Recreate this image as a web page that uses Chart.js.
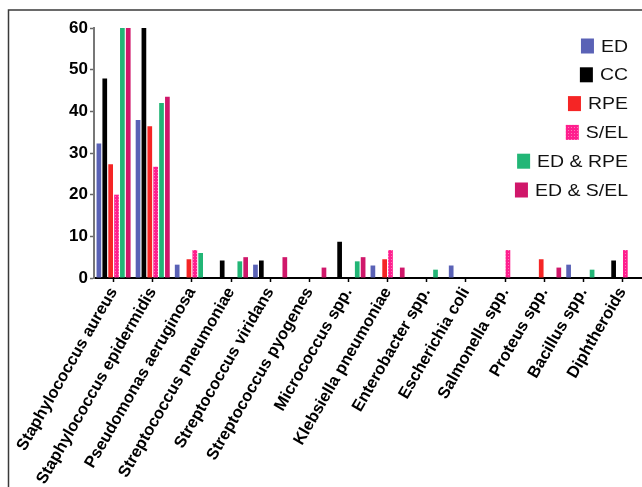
<!DOCTYPE html>
<html>
<head>
<meta charset="utf-8">
<script src="https://cdn.jsdelivr.net/npm/chart.js@4.4.1/dist/chart.umd.min.js"></script>
<style>
  body { margin: 0; background: #fff; }
  #wrap { width: 642px; height: 487px; position: relative; }
</style>
</head>
<body>
<div id="wrap"><canvas id="chart"></canvas></div>
<script>
const categories = [
  "Staphylococcus aureus", "Staphylococcus epidermidis", "Pseudomonas aeruginosa",
  "Streptococcus pneumoniae", "Streptococcus viridans", "Streptococcus pyogenes",
  "Micrococcus spp.", "Klebsiella pneumoniae", "Enterobacter spp.", "Escherichia coli",
  "Salmonella spp.", "Proteus spp.", "Bacillus spp.", "Diphtheroids"
];

const seriesNames = ["ED", "CC", "RPE", "S/EL", "ED & RPE", "ED & S/EL"];

const edValues    = [32.3, 37.9, 3.2, 0,   3.2, 0,   0,   3.0, 0,   3.0, 0,   0,   3.2, 0];
const ccValues    = [47.9, 60,   0,   4.2, 4.2, 0,   8.7, 0,   0,   0,   0,   0,   0,   4.2];
const rpeValues   = [27.3, 36.4, 4.5, 0,   0,   0,   0,   4.5, 0,   0,   0,   4.5, 0,   0];
const selValues   = [20.0, 26.7, 6.7, 0,   0,   0,   0,   6.7, 0,   0,   6.7, 0,   0,   6.7];
const edRpeValues = [60,   42.0, 6.0, 4.0, 0,   0,   4.0, 0,   2.0, 0,   0,   0,   2.0, 0];
const edSelValues = [60,   43.5, 0,   5.0, 5.0, 2.5, 5.0, 2.5, 0,   0,   0,   2.5, 0,   0];

const yTicks = [0, 10, 20, 30, 40, 50, 60];

const FONT = "'Liberation Sans', Arial, sans-serif";

// dotted pink fill for S/EL
function dotPattern() {
  const c = document.createElement("canvas");
  c.width = 3; c.height = 3;
  const g = c.getContext("2d");
  g.fillStyle = "#ff1f8e";
  g.fillRect(0, 0, 3, 3);
  g.fillStyle = "#ff79b8";
  g.fillRect(1, 1, 1, 1);
  return g.createPattern(c, "repeat");
}

const colors = ["#5a62b6", "#000000", "#f52525", dotPattern(), "#22b676", "#d0176a"];
const allValues = [edValues, ccValues, rpeValues, selValues, edRpeValues, edSelValues];

const frame = {
  id: "frame",
  beforeDraw(chart) {
    const ctx = chart.ctx;
    ctx.save();
    ctx.strokeStyle = "#3a3a3a";
    ctx.lineWidth = 1.5;
    ctx.beginPath();
    ctx.moveTo(642, 10);
    ctx.lineTo(8.5, 10);
    ctx.lineTo(8.5, 487);
    ctx.stroke();
    ctx.restore();
  }
};

const sideLegend = {
  id: "sideLegend",
  afterDraw(chart) {
    const ctx = chart.ctx;
    const right = 628;
    ctx.save();
    ctx.font = "16.5px " + FONT;
    ctx.textBaseline = "middle";
    chart.data.datasets.forEach((ds, i) => {
      const y = 46 + i * 28.8;
      const w = ctx.measureText(ds.label).width * 1.18;
      const textLeft = right - w;
      ctx.save();
      ctx.translate(textLeft, y);
      ctx.scale(1.18, 1);
      ctx.fillStyle = "#111";
      ctx.fillText(ds.label, 0, 1);
      ctx.restore();
      ctx.fillStyle = ds.backgroundColor;
      ctx.fillRect(textLeft - 20, y - 7.5, 13, 15);
    });
    ctx.restore();
  }
};

const ctx = document.getElementById("chart").getContext("2d");

new Chart(ctx, {
  type: "bar",
  data: {
    labels: categories,
    datasets: seriesNames.map((name, i) => ({
      label: name,
      data: allValues[i],
      backgroundColor: colors[i],
      borderWidth: 0,
      barPercentage: 0.8,
      categoryPercentage: 0.9
    }))
  },
  options: {
    responsive: true,
    maintainAspectRatio: false,
    animation: false,
    layout: { padding: { left: 0, top: 28, right: 0, bottom: 0 } },
    plugins: {
      legend: { display: false },
      tooltip: { enabled: false }
    },
    scales: {
      x: {
        offset: true,
        grid: { display: true, drawOnChartArea: false, offset: false, tickLength: 4, color: "#000", tickWidth: 1.5 },
        border: { display: true, color: "#000", width: 2 },
        ticks: {
          autoSkip: false, minRotation: 60, maxRotation: 60, padding: 2,
          color: "#000", font: { family: FONT, size: 16.5, weight: "bold" }
        },
        afterFit(s) { s.height = 487 - 278; }
      },
      y: {
        min: yTicks[0], max: yTicks[yTicks.length - 1],
        afterBuildTicks(s) { s.ticks = yTicks.map(v => ({ value: v })); },
        grid: { display: true, drawOnChartArea: false, tickLength: 4, color: "#666", tickWidth: 1.5 },
        border: { display: true, color: "#777", width: 2 },
        ticks: { padding: 2, color: "#000", font: { family: FONT, size: 17, weight: "bold" } },
        afterFit(s) { s.width = 94; }
      }
    }
  },
  plugins: [frame, sideLegend]
});
</script>
</body>
</html>
